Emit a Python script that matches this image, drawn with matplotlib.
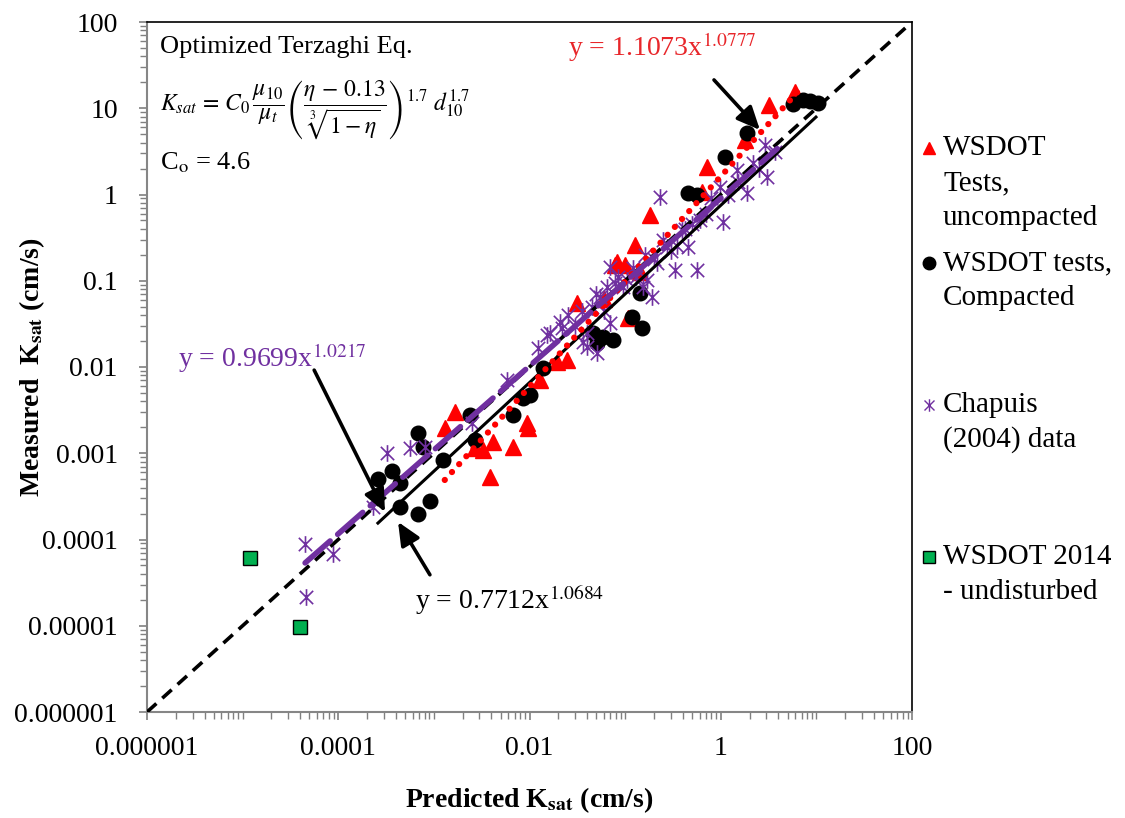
import numpy as np
import matplotlib.pyplot as plt
from matplotlib.path import Path
from matplotlib.lines import Line2D
from matplotlib.ticker import LogLocator, FuncFormatter, NullFormatter

plt.rcParams['font.family'] = ['Liberation Serif', 'DejaVu Serif']
plt.rcParams['mathtext.fontset'] = 'stix'

# WSDOT tests, uncompacted (predicted, measured) in cm/s
red_x = [0.00131, 0.00166, 0.00269, 0.00327, 0.00415, 0.00671, 0.00942, 0.00964, 0.00386,
         0.0129, 0.0194, 0.0247, 0.0314, 0.06, 0.0783, 0.0822, 0.0998, 0.107, 0.127, 0.143,
         0.182, 0.637, 0.718, 1.79, 3.20, 5.97]
red_y = [0.00196, 0.00301, 0.00115, 0.00109, 0.00135, 0.00118, 0.00224, 0.00196, 0.00053,
         0.00706, 0.0114, 0.0120, 0.0552, 0.061, 0.152, 0.165, 0.152, 0.0370, 0.259, 0.126,
         0.578, 1.07, 2.08, 4.29, 10.9, 15.4]

# WSDOT tests, compacted
black_x = [0.000261, 0.000365, 0.000443, 0.000682, 0.000769, 0.00124, 0.000443, 0.000682,
           0.000909, 0.00239, 0.00269, 0.00671, 0.0101, 0.00855, 0.0138, 0.0508, 0.0588,
           0.0746, 0.0461, 0.118, 0.150, 0.143, 0.455, 0.565, 1.11, 1.88, 5.70, 7.25, 8.57, 10.4]
black_y = [0.000502, 0.000622, 0.000452, 0.00172, 0.00118, 0.000835, 0.000238, 0.000198,
           0.000279, 0.00277, 0.00143, 0.00277, 0.00473, 0.00438, 0.00973, 0.0190, 0.0223,
           0.0206, 0.0248, 0.0380, 0.0283, 0.0721, 1.04, 0.986, 2.72, 5.16, 11.2, 12.5, 12.0, 11.5]

# Chapuis (2004) data
purple_x = [4.49e-5, 8.8e-5, 4.6e-5, 0.000231, 0.000324, 0.000562, 0.000807, 0.00251, 0.00582,
            0.0123, 0.0152, 0.0164, 0.0208, 0.0253, 0.0399, 0.0362, 0.0508, 0.0546, 0.0645,
            0.0783, 0.105, 0.154, 0.191, 0.0695, 0.0695, 0.169, 0.215, 0.274, 0.455, 0.394,
            0.333, 0.565, 0.232, 1.06, 1.88, 2.90, 3.69, 3.04, 1.48, 0.982,
            0.022, 0.03, 0.035, 0.045, 0.05, 0.085, 0.095, 0.12, 0.13, 0.16, 0.2, 0.25, 0.3,
            0.35, 0.42, 0.5, 0.6, 0.7, 0.8, 1.2, 1.5, 2.2, 2.5, 0.04, 0.06]
purple_y = [8.87e-5, 6.8e-5, 2.15e-5, 0.000238, 0.00101, 0.00115, 0.00118, 0.00224, 0.00706,
            0.0166, 0.0235, 0.0248, 0.0333, 0.0401, 0.0171, 0.0195, 0.0145, 0.0649, 0.0848,
            0.0942, 0.102, 0.0848, 0.0649, 0.0324, 0.144, 0.102, 0.161, 0.246, 0.246, 0.387,
            0.133, 0.133, 0.935, 0.480, 1.04, 3.75, 3.11, 1.60, 1.92, 1.22,
            0.028, 0.03, 0.045, 0.05, 0.07, 0.11, 0.085, 0.14, 0.11, 0.2, 0.18, 0.3, 0.22,
            0.25, 0.4, 0.45, 0.5, 0.6, 0.9, 1.0, 1.4, 2.3, 2.0, 0.025, 0.045]

# WSDOT 2014 undisturbed
green_x = [1.19e-5, 3.98e-5]
green_y = [6.1e-5, 9.7e-6]

# trend lines as drawn (end points)
red_fit_x = [0.0013, 7.2]
red_fit_y = [0.00049, 18.0]
black_fit_x = [0.00026, 9.9]
black_fit_y = [0.000155, 7.9]
purple_fit_x = [4.5e-5, 3.9]
purple_fit_y = [5.35e-5, 3.4]
one_to_one = [1e-6, 100]

x_ticks = [1e-6, 1e-4, 1e-2, 1, 100]
y_ticks = [1e-6, 1e-5, 1e-4, 1e-3, 1e-2, 1e-1, 1, 10, 100]

RED = '#FF0000'
PURPLE = '#7030A0'
GREEN = '#00B050'

star = Path([(0, -1), (0, 1), (-0.8, -0.8), (0.8, 0.8), (-0.8, 0.8), (0.8, -0.8)],
            [Path.MOVETO, Path.LINETO] * 3)


def decimal_label(v, pos):
    digits = max(0, -int(round(np.log10(v))))
    return f'{v:.{digits}f}'


fig = plt.figure(figsize=(11.25, 8.18), dpi=100)
ax = fig.add_axes([147 / 1125, 1 - 712 / 818, 765 / 1125, 690 / 818])

ax.plot(red_x, red_y, '^', color=RED, ms=12, mec=RED, zorder=3)
ax.plot(black_x, black_y, 'o', color='black', ms=10.5, zorder=3)
ax.plot(purple_x, purple_y, linestyle='none', marker=star, ms=12, mfc='none',
        mec=PURPLE, mew=1.2, zorder=3)
ax.plot(green_x, green_y, 's', color=GREEN, mec='black', mew=1.0, ms=10, zorder=3)

ax.plot(one_to_one, one_to_one, color='black', lw=2.6, linestyle=(0, (3.5, 2.2)), zorder=4)
ax.plot(black_fit_x, black_fit_y, color='black', lw=2.2, zorder=4)
ax.plot(red_fit_x, red_fit_y, color=RED, lw=4.5, linestyle=(0, (0.01, 1.7)),
        dash_capstyle='round', zorder=5)
ax.plot(purple_fit_x, purple_fit_y, color=PURPLE, lw=4, linestyle=(0, (6, 1.8)),
        dash_capstyle='round', zorder=5)

ax.set_xscale('log')
ax.set_yscale('log')
ax.set_xlim(1e-6, 100)
ax.set_ylim(1e-6, 100)

fmt = FuncFormatter(decimal_label)
ax.set_xticks(x_ticks)
ax.set_yticks(y_ticks)
ax.xaxis.set_minor_locator(LogLocator(base=10, subs=np.arange(1, 10), numticks=50))
ax.yaxis.set_minor_locator(LogLocator(base=10, subs=np.arange(2, 10), numticks=50))
ax.xaxis.set_major_formatter(fmt)
ax.yaxis.set_major_formatter(fmt)
ax.xaxis.set_minor_formatter(NullFormatter())
ax.yaxis.set_minor_formatter(NullFormatter())
ax.set_xlim(1e-6, 100)
ax.set_ylim(1e-6, 100)
ax.tick_params(which='both', direction='out', color='#808080', labelsize=20)
ax.tick_params(which='major', length=6, width=1.2)
ax.tick_params(which='minor', length=5, width=1.0)
ax.tick_params(axis='x', pad=11)
ax.tick_params(axis='y', pad=15)

for side in ['left', 'bottom']:
    ax.spines[side].set_color('#868686')
    ax.spines[side].set_linewidth(1.5)
for side in ['top', 'right']:
    ax.spines[side].set_color('black')
    ax.spines[side].set_linewidth(1.2)

ax.set_xlabel(r'Predicted K$_{\mathbf{sat}}$ (cm/s)', fontsize=20, fontweight='bold')
ax.set_ylabel(r'Measured  K$_{\mathbf{sat}}$ (cm/s)', fontsize=20, fontweight='bold')
ax.xaxis.set_label_coords(0.5, -0.128)
ax.yaxis.set_label_coords(-0.150, 0.5)
ax.xaxis.label.set_va('center')
ax.yaxis.label.set_va('center')

# equation box text
ax.text(0.017, 0.964, 'Optimized Terzaghi Eq.', transform=ax.transAxes, fontsize=19, va='center')
ax.text(0.017, 0.872,
        r'$K_{sat}\,=\,C_0\,\dfrac{\mu_{10}}{\mu_t}\left(\dfrac{\eta\,-\,0.13}{\sqrt[3]{1-\eta}}\right)^{1.7}\ d_{10}^{1.7}$',
        transform=ax.transAxes, fontsize=17, va='center')
ax.text(0.017, 0.796, r'C$_{\rm o}$ = 4.6', transform=ax.transAxes, fontsize=19, va='center')

arrow = dict(arrowstyle='-|>,head_length=1.0,head_width=0.45', lw=2.6, color='black',
             mutation_scale=14, shrinkA=0, shrinkB=0)
ax.text(0.550, 0.964, r'y = 1.1073x$^{1.0777}$', transform=ax.transAxes, fontsize=20,
        color='#E8262A', va='center')
ax.annotate('', xy=(2.57, 5.6), xytext=(0.85, 21.3), arrowprops=arrow, zorder=6)
ax.text(0.0405, 0.513, r'y = 0.9699x$^{1.0217}$', transform=ax.transAxes, fontsize=20,
        color=PURPLE, va='center')
ax.annotate('', xy=(0.000308, 0.000208), xytext=(5.6e-5, 0.0092), arrowprops=arrow, zorder=6)
ax.text(0.350, 0.162, r'y = 0.7712x$^{1.0684}$', transform=ax.transAxes, fontsize=20,
        color='black', va='center')
ax.annotate('', xy=(0.000422, 0.00016), xytext=(0.000909, 3.9e-5), arrowprops=arrow, zorder=6)

# legend drawn at the right, marker beside first line of each entry
legend_items = [
    ('^', RED, RED, ['WSDOT', 'Tests,', 'uncompacted'], 148),
    ('o', 'black', 'black', ['WSDOT tests,', 'Compacted'], 263),
    (star, 'none', PURPLE, ['Chapuis', '(2004) data'], 405),
    ('s', GREEN, 'black', ['WSDOT 2014', '- undisturbed'], 557),
]
for mk, fc, ec, lines, ypx in legend_items:
    y0 = 1 - ypx / 818
    fig.add_artist(Line2D([929 / 1125], [y0], transform=fig.transFigure, marker=mk,
                          ms=9, mfc=fc, mec=ec, mew=1.0, linestyle='none'))
    for i, t in enumerate(lines):
        fig.text(943 / 1125, y0 - i * 35 / 818, t, fontsize=21, va='center', ha='left')

fig.savefig('out.png', dpi=100)
